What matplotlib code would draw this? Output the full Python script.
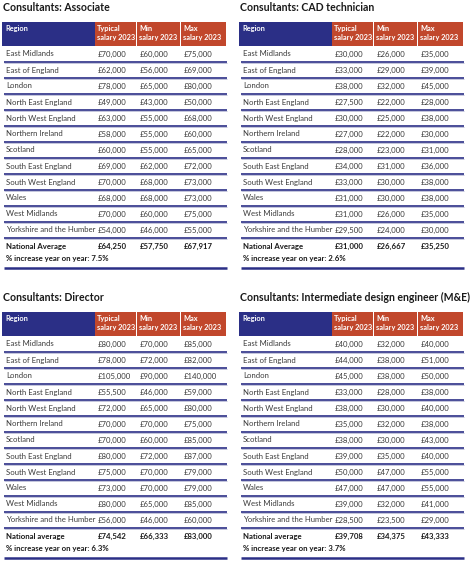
import matplotlib.pyplot as plt
from matplotlib.patches import Rectangle

plt.rcParams['font.family'] = ['Lato', 'DejaVu Sans']

regions = ["East Midlands", "East of England", "London", "North East England",
           "North West England", "Northern Ireland", "Scotland", "South East England",
           "South West England", "Wales", "West Midlands", "Yorkshire and the Humber"]

assoc_typical = ["£70,000", "£62,000", "£78,000", "£49,000", "£63,000", "£58,000",
                 "£60,000", "£69,000", "£70,000", "£68,000", "£70,000", "£54,000"]
assoc_min = ["£60,000", "£56,000", "£65,000", "£43,000", "£55,000", "£55,000",
             "£55,000", "£62,000", "£68,000", "£68,000", "£60,000", "£46,000"]
assoc_max = ["£75,000", "£69,000", "£80,000", "£50,000", "£68,000", "£60,000",
             "£65,000", "£72,000", "£73,000", "£73,000", "£75,000", "£55,000"]
assoc_avg = ["£64,250", "£57,750", "£67,917"]

cad_typical = ["£30,000", "£33,000", "£38,000", "£27,500", "£30,000", "£27,000",
               "£28,000", "£34,000", "£33,000", "£31,000", "£31,000", "£29,500"]
cad_min = ["£26,000", "£29,000", "£32,000", "£22,000", "£25,000", "£22,000",
           "£23,000", "£31,000", "£30,000", "£30,000", "£26,000", "£24,000"]
cad_max = ["£35,000", "£39,000", "£45,000", "£28,000", "£38,000", "£30,000",
           "£31,000", "£36,000", "£38,000", "£38,000", "£35,000", "£30,000"]
cad_avg = ["£31,000", "£26,667", "£35,250"]

dir_typical = ["£80,000", "£78,000", "£105,000", "£55,500", "£72,000", "£70,000",
               "£70,000", "£80,000", "£75,000", "£73,000", "£80,000", "£56,000"]
dir_min = ["£70,000", "£72,000", "£90,000", "£46,000", "£65,000", "£70,000",
           "£60,000", "£72,000", "£70,000", "£70,000", "£65,000", "£46,000"]
dir_max = ["£85,000", "£82,000", "£140,000", "£59,000", "£80,000", "£75,000",
           "£85,000", "£87,000", "£79,000", "£79,000", "£85,000", "£60,000"]
dir_avg = ["£74,542", "£66,333", "£83,000"]

me_typical = ["£40,000", "£44,000", "£45,000", "£33,000", "£38,000", "£35,000",
              "£38,000", "£39,000", "£50,000", "£47,000", "£39,000", "£28,500"]
me_min = ["£32,000", "£38,000", "£38,000", "£28,000", "£30,000", "£32,000",
          "£30,000", "£35,000", "£47,000", "£47,000", "£32,000", "£23,500"]
me_max = ["£40,000", "£51,000", "£50,000", "£38,000", "£40,000", "£38,000",
          "£43,000", "£40,000", "£55,000", "£55,000", "£41,000", "£29,000"]
me_avg = ["£39,708", "£34,375", "£43,333"]

headers = ["Region", "Typical\nsalary 2023", "Min\nsalary 2023", "Max\nsalary 2023"]

NAVY = "#2b2f86"
RED = "#c1472c"
TXT = "#3a3a3a"

col_edges = [0, 93, 135, 179, 225]
row_h = 16
head_h = 24
FS = 5.6


def draw_table(ax, x0, y0, title, typical, mn, mx, avg_label, avg, increase):
    ax.text(x0 + 1, y0 - 14.5, title, fontsize=7.6, fontweight='bold', color='#1a1a1a',
            va='center', ha='left')
    # header cells
    ax.add_patch(Rectangle((x0, y0), col_edges[1], head_h, color=NAVY, lw=0))
    for i in range(1, 4):
        ax.add_patch(Rectangle((x0 + col_edges[i] + 0.5, y0), col_edges[i + 1] - col_edges[i] - 1,
                               head_h, color=RED, lw=0))
    for i, h in enumerate(headers):
        ax.text(x0 + col_edges[i] + (3 if i == 0 else 2.0), y0 + 2.8, h, fontsize=5.35,
                fontweight='bold', color='white', va='top', ha='left', linespacing=1.35)
    # body rows
    ytop = y0 + head_h
    for r, reg in enumerate(regions):
        yc = ytop + r * row_h + row_h / 2
        vals = [reg, typical[r], mn[r], mx[r]]
        for i, v in enumerate(vals):
            ax.text(x0 + col_edges[i] + (4 if i == 0 else 2.5), yc, v, fontsize=FS,
                    color=TXT, va='center', ha='left')
        yl = ytop + (r + 1) * row_h
        ax.plot([x0 + 2, x0 + col_edges[-1]], [yl, yl], color=NAVY, lw=1.2,
                solid_capstyle='butt')
        ax.plot([x0 + 2, x0 + col_edges[-1]], [yl + 1.1, yl + 1.1], color='#b9bbd6', lw=0.6,
                solid_capstyle='butt')
    # national average row
    yn = ytop + len(regions) * row_h + row_h / 2
    for i, v in enumerate([avg_label] + avg):
        ax.text(x0 + col_edges[i] + (4 if i == 0 else 2.5), yn, v, fontsize=FS,
                fontweight='bold', color='#1a1a1a', va='center', ha='left')
    yp = yn + 13
    ax.text(x0 + 4, yp, "% increase year on year: " + increase, fontsize=FS,
            fontweight='bold', color='#1a1a1a', va='center', ha='left')
    yb = yp + 9
    ax.plot([x0 + 2, x0 + col_edges[-1]], [yb, yb], color=NAVY, lw=1.8,
            solid_capstyle='butt')


fig = plt.figure(figsize=(4.74, 5.68), dpi=100)
ax = fig.add_axes([0, 0, 1, 1])
ax.set_xlim(0, 474)
ax.set_ylim(568, 0)
ax.axis('off')

draw_table(ax, 2, 22, "Consultants: Associate", assoc_typical, assoc_min, assoc_max,
           "National Average", assoc_avg, "7.5%")
draw_table(ax, 239, 22, "Consultants: CAD technician", cad_typical, cad_min, cad_max,
           "National Average", cad_avg, "2.6%")
draw_table(ax, 2, 312, "Consultants: Director", dir_typical, dir_min, dir_max,
           "National average", dir_avg, "6.3%")
draw_table(ax, 239, 312, "Consultants: Intermediate design engineer (M&E)", me_typical,
           me_min, me_max, "National average", me_avg, "3.7%")

fig.savefig("out.png", dpi=100)
